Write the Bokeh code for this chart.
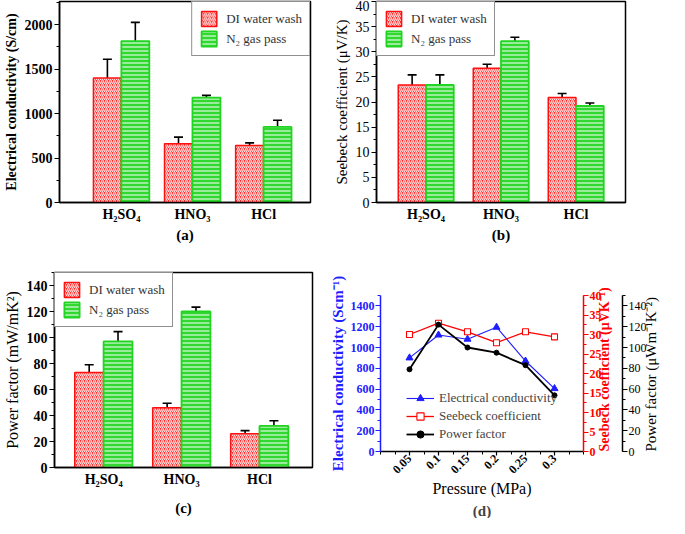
import math
from bokeh.plotting import figure
from bokeh.models import (ColumnDataSource, Whisker, TeeHead, Legend, LegendItem,
                          LinearAxis, Range1d, SingleIntervalTicker, FixedTicker, Title)
from bokeh.layouts import row, column
from bokeh.embed import file_html
from bokeh.resources import INLINE

# ---------------- data ----------------
acids = ["H₂SO₄", "HNO₃", "HCl"]
series_names = ["DI water wash", "N₂ gas pass"]

cond_di = [1400, 660, 640]
cond_di_err = [210, 75, 30]
cond_n2 = [1815, 1180, 850]
cond_n2_err = [210, 25, 75]

seeb_di = [23.4, 26.7, 20.9]
seeb_di_err = [2.0, 0.8, 0.8]
seeb_n2 = [23.4, 32.1, 19.2]
seeb_n2_err = [2.0, 0.8, 0.6]

pf_di = [73, 46, 26]
pf_di_err = [6.0, 3.4, 2.4]
pf_n2 = [97, 120, 32]
pf_n2_err = [7.5, 3.4, 4.0]

pressure = [0.05, 0.1, 0.15, 0.2, 0.25, 0.3]
pressure_labels = ["0.05", "0.1", "0.15", "0.2", "0.25", "0.3"]
pressure_minor = [0.0, 0.025, 0.05, 0.075, 0.1, 0.125, 0.15, 0.175, 0.2,
                  0.225, 0.25, 0.275, 0.3, 0.325, 0.35]
ec_pressure = [900, 1120, 1080, 1195, 870, 605]
seebeck_pressure = [30.0, 32.9, 30.7, 27.9, 30.7, 29.4]
pf_pressure = [79, 122, 100, 95, 83, 54]
line_names = ["Electrical conductivity", "Seebeck coefficient", "Power factor"]
axis_titles_d = ["Electrical conductivity (Scm⁻¹)", "Seebeck coefficient (μVK⁻¹)",
                 "Power factor (μWm⁻¹K⁻²)", "Pressure (MPa)"]

# ---------------- style ----------------
SERIF = "Liberation Serif"
RED = "#ff2a2a"
RED_EDGE = "#ff1010"
GREEN = "#30d830"
GREEN_EDGE = "#22d422"
BLUE = "#1e1eff"


def no_align(p):
    if "frame_align" in p.properties():
        p.frame_align = False


def style_axis(ax, size, bold, color="black"):
    ax.major_label_text_font = SERIF
    ax.major_label_text_font_size = size
    ax.major_label_text_font_style = "bold" if bold else "normal"
    ax.major_label_text_color = color
    ax.axis_line_color = color
    ax.major_tick_line_color = color
    ax.minor_tick_line_color = color
    ax.axis_line_width = 1.5
    ax.major_tick_line_width = 1.2
    ax.minor_tick_line_width = 1.0
    ax.major_tick_in = 0
    ax.major_tick_out = 5
    ax.minor_tick_in = 0
    ax.minor_tick_out = 3
    ax.axis_label_text_font = SERIF
    ax.axis_label_text_color = color


def bar_panel(width, height, borders, xr, yr, bar_w, di, di_err, n2, n2_err,
              ytitle, ystep, tick_bold, title_size, title_bold, legend_loc,
              panel_label, label_standoff):
    bl, br, bt, bb = borders
    p = figure(width=width, height=height, x_range=Range1d(*xr), y_range=Range1d(*yr),
               output_backend="svg", toolbar_location=None,
               min_border_left=bl, min_border_right=br, min_border_top=bt,
               min_border_bottom=bb)
    no_align(p)
    p.xgrid.visible = False
    p.ygrid.visible = False
    p.outline_line_color = "black"
    p.outline_line_width = 1.5

    idx = list(range(1, len(acids) + 1))
    src = ColumnDataSource(dict(
        xd=[i - bar_w / 2 for i in idx], xn=[i + bar_w / 2 for i in idx],
        di=di, n2=n2,
        di_lo=[v - e for v, e in zip(di, di_err)], di_hi=[v + e for v, e in zip(di, di_err)],
        n2_lo=[v - e for v, e in zip(n2, n2_err)], n2_hi=[v + e for v, e in zip(n2, n2_err)],
    ))
    r1 = p.vbar(x="xd", top="di", width=bar_w, source=src, fill_color=RED,
                line_color=RED_EDGE, line_width=1.5, hatch_pattern="/",
                hatch_color="white", hatch_scale=4, hatch_weight=1.3, hatch_alpha=0.8)
    r2 = p.vbar(x="xn", top="n2", width=bar_w, source=src, fill_color=GREEN,
                line_color=GREEN_EDGE, line_width=1.8, hatch_pattern="-",
                hatch_color="white", hatch_scale=4, hatch_weight=1.2, hatch_alpha=0.85)
    for base, lo, hi in (("xd", "di_lo", "di_hi"), ("xn", "n2_lo", "n2_hi")):
        w = Whisker(source=src, base=base, lower=lo, upper=hi, line_color="black",
                    line_width=1.6,
                    upper_head=TeeHead(size=9, line_color="black", line_width=1.6),
                    lower_head=TeeHead(size=9, line_color="black", line_width=1.6))
        p.add_layout(w)

    legend = Legend(items=[LegendItem(label=series_names[0], renderers=[r1]),
                           LegendItem(label=series_names[1], renderers=[r2])],
                    location=legend_loc, margin=0, padding=7, spacing=1,
                    glyph_width=19, glyph_height=19, label_height=19, label_standoff=8,
                    label_text_font=SERIF, label_text_font_size="13px",
                    label_text_color="#333333", border_line_color="#222222",
                    border_line_width=1.2, background_fill_alpha=1.0)
    p.add_layout(legend)

    ya = p.yaxis[0]
    style_axis(ya, "14px", tick_bold)
    ya.ticker = SingleIntervalTicker(interval=ystep, num_minor_ticks=2)
    ya.major_label_standoff = 2
    ya.axis_label = ytitle
    ya.axis_label_text_font_size = title_size
    ya.axis_label_text_font_style = "bold" if title_bold else "normal"
    ya.axis_label_standoff = 3

    xa = p.xaxis[0]
    style_axis(xa, "14px", True)
    xa.ticker = FixedTicker(ticks=idx)
    xa.major_label_overrides = {i: a for i, a in zip(idx, acids)}
    xa.major_tick_out = 0
    xa.minor_tick_out = 0
    xa.major_label_standoff = 4
    xa.axis_label = panel_label
    xa.axis_label_text_font_size = "15px"
    xa.axis_label_text_font_style = "bold"
    xa.axis_label_standoff = label_standoff
    return p


pa = bar_panel(330, 252, (50, 20, 1, 50), (0.13, 3.66), (0, 2260), 0.393,
               cond_di, cond_di_err, cond_n2, cond_n2_err,
               "Electrical conductivity (S/cm)", 500, True, "14px", True,
               "top_right", "(a)", 2)

pb = bar_panel(339, 252, (43, 44, 1, 50), (0.34, 3.66), (0, 40), 0.37,
               seeb_di, seeb_di_err, seeb_n2, seeb_n2_err,
               "Seebeck coefficient (μV/K)", 5, False, "15px", False,
               "top_left", "(b)", 2)

pc = bar_panel(326, 266, (50, 14, 20, 50), (0.37, 3.68), (0, 150), 0.37,
               pf_di, pf_di_err, pf_n2, pf_n2_err,
               "Power factor (mW/mK²)", 20, True, "16px", False,
               "top_left", "(c)", 10)

# ---------------- panel (d) ----------------
pd_ = figure(width=343, height=266, x_range=Range1d(0, 0.35), y_range=Range1d(0, 1500),
             output_backend="svg", toolbar_location=None,
             min_border_left=46, min_border_right=10, min_border_top=43, min_border_bottom=60)
no_align(pd_)
pd_.xgrid.visible = False
pd_.ygrid.visible = False
pd_.outline_line_color = None
pd_.extra_y_ranges = {"seebeck": Range1d(0, 40), "pf": Range1d(0, 150)}

ax_red = LinearAxis(y_range_name="seebeck")
ax_blk = LinearAxis(y_range_name="pf")
pd_.add_layout(ax_red, "right")
pd_.add_layout(ax_blk, "right")

l1 = pd_.line(pressure, ec_pressure, line_color=BLUE, line_width=1.1)
m1 = pd_.scatter(pressure, ec_pressure, marker="triangle", size=7, fill_color=BLUE,
                 line_color=BLUE)
l2 = pd_.line(pressure, seebeck_pressure, line_color="#ff0000", line_width=1.3,
              y_range_name="seebeck")
m2 = pd_.scatter(pressure, seebeck_pressure, marker="square", size=6, fill_color="white",
                 line_color="#ff0000", line_width=1.1, y_range_name="seebeck")
l3 = pd_.line(pressure, pf_pressure, line_color="black", line_width=1.8, y_range_name="pf")
m3 = pd_.scatter(pressure, pf_pressure, marker="circle", size=5, fill_color="black",
                 line_color="black", y_range_name="pf")

leg = Legend(items=[LegendItem(label=line_names[0], renderers=[l1, m1]),
                    LegendItem(label=line_names[1], renderers=[l2, m2]),
                    LegendItem(label=line_names[2], renderers=[l3, m3])],
             location=(26, 8), margin=0, padding=0, spacing=0,
             glyph_width=28, glyph_height=18, label_height=18, label_standoff=5,
             label_text_font=SERIF, label_text_font_size="13px",
             border_line_color=None, background_fill_alpha=0)
pd_.add_layout(leg)

# bottom axis
xa = pd_.xaxis[0]
style_axis(xa, "12px", True)
xa.ticker = FixedTicker(ticks=pressure, minor_ticks=pressure_minor)
xa.major_label_overrides = {v: s for v, s in zip(pressure, pressure_labels)}
xa.major_label_orientation = math.pi / 4
xa.major_tick_out = 4
xa.major_label_standoff = 1
xa.axis_label = axis_titles_d[3]
xa.axis_label_text_font_size = "16px"
xa.axis_label_text_font_style = "normal"
xa.axis_label_standoff = 0

# left (blue) axis
ya = pd_.yaxis[0]
style_axis(ya, "12px", True, BLUE)
ya.ticker = SingleIntervalTicker(interval=200, num_minor_ticks=2)
ya.major_label_standoff = 1
ya.axis_label = axis_titles_d[0]
ya.axis_label_text_font_size = "15px"
ya.axis_label_text_font_style = "bold"
ya.axis_label_standoff = 2

# right red axis
style_axis(ax_red, "12px", True, "#ff0000")
ax_red.ticker = SingleIntervalTicker(interval=5, num_minor_ticks=2)
ax_red.major_label_standoff = 1
ax_red.axis_label = axis_titles_d[1]
ax_red.axis_label_text_font_size = "14px"
ax_red.axis_label_text_font_style = "bold"
ax_red.axis_label_standoff = 0

# right black axis
style_axis(ax_blk, "12px", False, "black")
ax_blk.ticker = SingleIntervalTicker(interval=20, num_minor_ticks=2)
ax_blk.major_label_standoff = 1
ax_blk.axis_label = axis_titles_d[2]
ax_blk.axis_label_text_font_size = "15px"
ax_blk.axis_label_text_font_style = "normal"
ax_blk.axis_label_standoff = 1

# right-hand titles read bottom to top, as in the reference
for ax in (ax_red, ax_blk):
    props = ax.properties()
    if "axis_label_orientation" in props:
        ax.axis_label_orientation = math.pi / 2
    if "axis_label_align" in props:
        ax.axis_label_align = "start"

pd_.add_layout(Title(text="(d)", align="center", offset=14, standoff=0,
                     text_font=SERIF, text_font_size="15px", text_font_style="bold"),
               "below")

layout = column(row(pa, pb), row(pc, pd_))

with open("out.html", "w") as f:
    f.write(file_html(layout, INLINE))
